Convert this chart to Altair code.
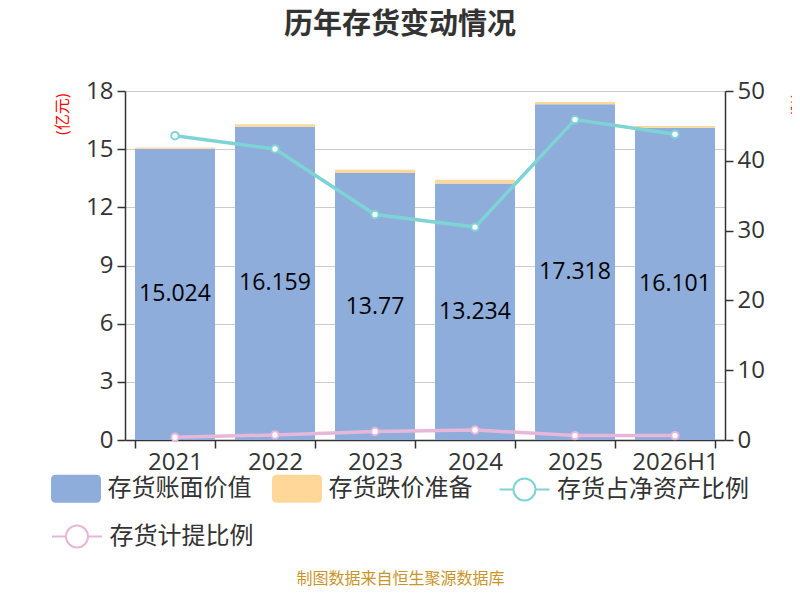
import altair as alt
import pandas as pd

# ---------------- data ----------------
years = ["2021", "2022", "2023", "2024", "2025", "2026H1"]
book_value = [15.024, 16.159, 13.77, 13.234, 17.318, 16.101]
impairment = [0.06, 0.12, 0.17, 0.19, 0.11, 0.10]
net_asset_ratio = [43.6, 41.7, 32.3, 30.5, 45.9, 43.8]
provision_ratio = [0.40, 0.73, 1.22, 1.43, 0.63, 0.63]
bar_labels = ["15.024", "16.159", "13.77", "13.234", "17.318", "16.101"]

S_BOOK = "存货账面价值"
S_IMP = "存货跌价准备"
S_NET = "存货占净资产比例"
S_PROV = "存货计提比例"

BLUE = "#8EADDB"
YELLOW = "#FFD899"
GREEN = "#7ED3D5"
PINK = "#E7B7DA"
DARK = "#333333"
FONT = "Open Sans, Noto Sans CJK SC, sans-serif"

bars_df = pd.DataFrame({
    "year": years * 2,
    "series": [S_BOOK] * len(years) + [S_IMP] * len(years),
    "value": book_value + impairment,
    "order": [0] * len(years) + [1] * len(years),
})
label_df = pd.DataFrame({"year": years, "value": book_value, "label": bar_labels})
net_df = pd.DataFrame({"year": years, "value": net_asset_ratio, "series": [S_NET] * len(years)})
prov_df = pd.DataFrame({"year": years, "value": provision_ratio, "series": [S_PROV] * len(years)})

# ---------------- legend symbols ----------------
RECT_PATH = ("M-1.6,-1.12 L1.6,-1.12 Q2,-1.12 2,-0.72 L2,0.72 Q2,1.12 1.6,1.12 "
             "L-1.6,1.12 Q-2,1.12 -2,0.72 L-2,-0.72 Q-2,-1.12 -1.6,-1.12 Z")
LINE_PATH = ("M-2,0 L-0.88,0 M0.88,0 L2,0 "
             "M-0.88,0 A0.88,0.88 0 1,1 0.88,0 A0.88,0.88 0 1,1 -0.88,0")

legend_common = dict(
    orient="none", title=None, labelFontSize=24, labelColor=DARK, labelFont=FONT,
    symbolSize=625, padding=0, labelOffset=19, labelLimit=400,
)

# ---------------- encodings ----------------
x_enc = alt.X(
    "year:N", sort=years,
    scale=alt.Scale(paddingInner=0.2, paddingOuter=0.1),
    axis=alt.Axis(
        labelAngle=0, labelFontSize=24, labelColor=DARK, labelFont=FONT,
        labelPadding=2, tickBand="extent", tickSize=8, tickColor=DARK,
        domainColor=DARK, domainWidth=1.5, tickWidth=1.5,
        title="制图数据来自恒生聚源数据库", titleFontSize=16, titleFontWeight="normal",
        titleColor="#C8952A", titleFont=FONT, titleX=275, titleY=138,
        titleBaseline="middle",
    ),
)

left_axis = alt.Axis(
    values=[0, 3, 6, 9, 12, 15, 18], labelFontSize=24, labelColor=DARK, labelFont=FONT,
    tickSize=8, tickColor=DARK, tickWidth=1.5, domainColor=DARK, domainWidth=1.5,
    grid=True, gridColor="#CCCCCC", gridWidth=1.2, labelPadding=4,
    title="(亿元)", titleColor="red", titleFontSize=16, titleFontWeight="normal",
    titleFont=FONT, titleX=-63, titleY=2, titleAlign="right", titleAngle=-90,
    titleBaseline="middle",
)

right_axis = alt.Axis(
    orient="right", values=[0, 10, 20, 30, 40, 50], labelFontSize=24, labelColor=DARK,
    labelFont=FONT, tickSize=8, tickColor=DARK, tickWidth=1.5, domainColor=DARK,
    domainWidth=1.5, grid=False, labelPadding=4,
    title="(%)", titleColor="red", titleFontSize=16, titleFontWeight="normal",
    titleFont=FONT, titleX=72, titleY=2, titleAlign="right", titleAngle=-90,
    titleBaseline="middle",
)

# ---------------- layers ----------------
bars = alt.Chart(bars_df).mark_bar().encode(
    x=x_enc,
    y=alt.Y("value:Q", stack="zero", scale=alt.Scale(domain=[0, 18]), axis=left_axis),
    color=alt.Color(
        "series:N",
        scale=alt.Scale(domain=[S_BOOK, S_IMP], range=[BLUE, YELLOW]),
        legend=alt.Legend(
            direction="horizontal", legendX=-61.5, legendY=385, symbolType=RECT_PATH,
            symbolStrokeWidth=0, columnPadding=20, **legend_common,
        ),
    ),
    order=alt.Order("order:Q"),
)

texts = alt.Chart(label_df).transform_calculate(
    mid="datum.value / 2"
).mark_text(fontSize=23, color="black", baseline="middle", font=FONT).encode(
    x=x_enc,
    y=alt.Y("mid:Q", scale=alt.Scale(domain=[0, 18]), axis=left_axis),
    text="label:N",
)

left_group = alt.layer(bars, texts)

y_right = alt.Y("value:Q", scale=alt.Scale(domain=[0, 50]), axis=right_axis)


def line_group(df, color, series, lx, ly):
    stroke = alt.Stroke(
        "series:N",
        scale=alt.Scale(domain=[series], range=[color]),
        legend=alt.Legend(
            legendX=lx, legendY=ly, symbolType=LINE_PATH, symbolStrokeWidth=2,
            symbolFillColor="white", **legend_common,
        ),
    )
    ln = alt.Chart(df).mark_line(strokeWidth=3.5).encode(x=x_enc, y=y_right, stroke=stroke)
    pt = alt.Chart(df).mark_point(
        filled=False, fill="white", size=55, strokeWidth=2, opacity=1
    ).encode(x=x_enc, y=y_right, stroke=stroke)
    return alt.layer(ln, pt)


green = line_group(net_df, GREEN, S_NET, 386, 385)
pink = line_group(prov_df, PINK, S_PROV, -61.5, 432)

right_group = alt.layer(green, pink).resolve_scale(stroke="independent")

chart = alt.layer(left_group, right_group).resolve_scale(
    y="independent"
).properties(
    width=600, height=349,
    padding={"left": 117, "top": 83, "right": 67, "bottom": 148},
    autosize=alt.AutoSizeParams(type="none"),
    title=alt.Title(
        "历年存货变动情况", fontSize=29, fontWeight="bold", color=DARK, font=FONT,
        anchor="middle", dx=-25, offset=39,
    ),
).configure_view(stroke=None)

chart.save("out.html", embed_options={"renderer": "svg", "actions": False})
